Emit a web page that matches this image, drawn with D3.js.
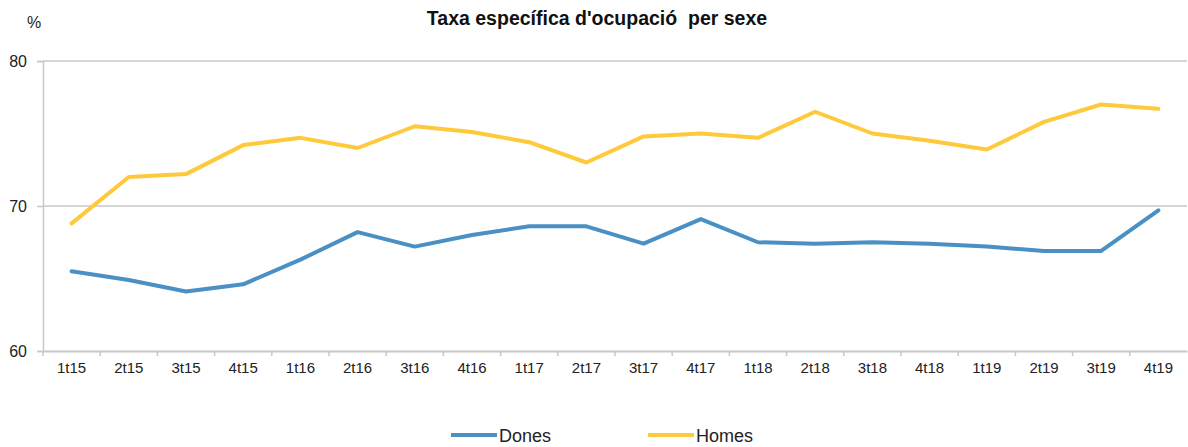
<!DOCTYPE html>
<html lang="ca">
<head>
<meta charset="UTF-8" />
<title>Taxa específica d'ocupació per sexe</title>
<script src="https://d3js.org/d3.v7.min.js"></script>
<style>
  body { margin: 0; background: #fff; font-family: "Liberation Sans", Arial, sans-serif; }
  svg { display: block; }
</style>
</head>
<body>
<svg width="1188" height="447"></svg>
<script>
  const trimestres = ["1t15","2t15","3t15","4t15","1t16","2t16","3t16","4t16","1t17","2t17",
                      "3t17","4t17","1t18","2t18","3t18","4t18","1t19","2t19","3t19","4t19"];
  const dones = [65.5, 64.9, 64.1, 64.6, 66.3, 68.2, 67.2, 68.0, 68.6, 68.6,
                 67.4, 69.1, 67.5, 67.4, 67.5, 67.4, 67.2, 66.9, 66.9, 69.7];
  const homes = [68.8, 72.0, 72.2, 74.2, 74.7, 74.0, 75.5, 75.1, 74.4, 73.0,
                 74.8, 75.0, 74.7, 76.5, 75.0, 74.5, 73.9, 75.8, 77.0, 76.7];
  const yTicks = [60, 70, 80];

  const series = [
    { name: "Dones", values: dones, color: "#4a90c4" },
    { name: "Homes", values: homes, color: "#ffc93c" }
  ];

  const svg = d3.select("svg");
  const mLeft = 43, mRight = 1187, mTop = 61, mBottom = 351;

  const x = d3.scaleBand().domain(trimestres).range([mLeft, mRight]);
  const y = d3.scaleLinear().domain([60, 80]).range([mBottom, mTop]);

  // gridlines
  svg.append("g")
    .selectAll("line")
    .data(yTicks.filter(d => d !== 60))
    .join("line")
    .attr("x1", mLeft).attr("x2", mRight)
    .attr("y1", d => y(d)).attr("y2", d => y(d))
    .attr("stroke", "#c8c8c8").attr("stroke-width", 1.5);

  // y axis
  const yAxis = svg.append("g")
    .attr("transform", `translate(${mLeft},0)`)
    .call(d3.axisLeft(y).tickValues(yTicks).tickSize(6).tickPadding(10));
  yAxis.select(".domain").attr("stroke", "#c8c8c8").attr("stroke-width", 1.5);
  yAxis.selectAll(".tick line").attr("stroke", "#c8c8c8").attr("stroke-width", 1.5);
  yAxis.selectAll(".tick text")
    .attr("font-family", "Liberation Sans, Arial, sans-serif")
    .attr("font-size", 16).attr("fill", "#222");

  // x axis
  const xAxis = svg.append("g")
    .attr("transform", `translate(0,${mBottom})`)
    .call(d3.axisBottom(x).tickSize(0).tickPadding(11));
  xAxis.select(".domain").attr("stroke", "#c8c8c8").attr("stroke-width", 2);
  xAxis.selectAll(".tick text")
    .attr("font-family", "Liberation Sans, Arial, sans-serif")
    .attr("font-size", 15).attr("fill", "#222");

  svg.append("g")
    .selectAll("line")
    .data(trimestres)
    .join("line")
    .attr("x1", d => x(d)).attr("x2", d => x(d))
    .attr("y1", mBottom).attr("y2", mBottom + 5)
    .attr("stroke", "#c8c8c8").attr("stroke-width", 1.5);

  // lines
  const line = d3.line()
    .x((d, i) => x(trimestres[i]) + x.bandwidth() / 2)
    .y(d => y(d));

  svg.append("g")
    .selectAll("path")
    .data(series)
    .join("path")
    .attr("d", d => line(d.values))
    .attr("fill", "none")
    .attr("stroke", d => d.color)
    .attr("stroke-width", 4)
    .attr("stroke-linejoin", "round")
    .attr("stroke-linecap", "round");

  // title and unit
  svg.append("text")
    .attr("x", 597).attr("y", 25)
    .attr("text-anchor", "middle")
    .style("font-size", "19.5px").style("font-weight", "bold").style("fill", "#111")
    .style("white-space", "pre")
    .text("Taxa específica d'ocupació  per sexe");

  svg.append("text")
    .attr("x", 27).attr("y", 28)
    .style("font-size", "16px").style("fill", "#222")
    .text("%");

  // legend
  const legend = svg.append("g")
    .selectAll("g")
    .data(series)
    .join("g")
    .attr("transform", (d, i) => `translate(${451 + i * 197},435)`);

  legend.append("line")
    .attr("x1", 0).attr("x2", 46)
    .attr("stroke", d => d.color)
    .attr("stroke-width", 4);

  legend.append("text")
    .attr("x", 48).attr("y", 7)
    .style("font-size", "18px").style("fill", "#222")
    .text(d => d.name);
</script>
</body>
</html>
